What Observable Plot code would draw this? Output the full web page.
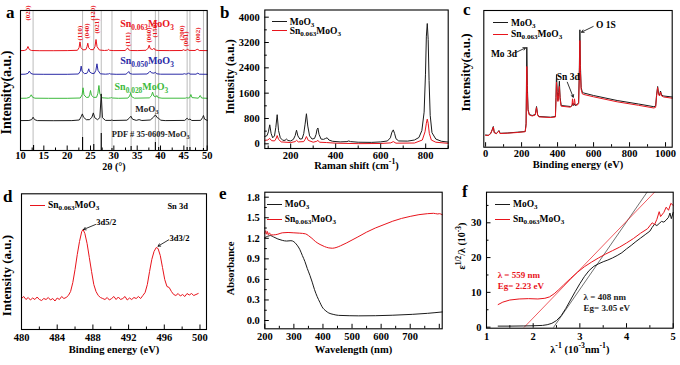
<!DOCTYPE html>
<html>
<head>
<meta charset="utf-8">
<script src="https://cdn.jsdelivr.net/npm/d3@7"></script>
<script src="https://cdn.jsdelivr.net/npm/@observablehq/plot@0.6"></script>
<style>
  html, body { margin: 0; padding: 0; background: #fff; }
  #fig { position: relative; width: 680px; height: 365px; overflow: hidden; background: #fff;
         font-family: "Liberation Serif", "Times New Roman", serif; color: #000; }
  .panel { position: absolute; }
  .panel svg { overflow: visible; display: block; }
  .letter { position: absolute; font-weight: bold; font-size: 17px; line-height: 17px; }
  .lg { position: absolute; display: flex; align-items: center; height: 12px; font-weight: bold;
        font-size: 9.5px; white-space: nowrap; }
  .lg .sw { display: inline-block; width: 15px; height: 0; border-top: 1.1px solid; margin-right: 3px; }
  .lg sub { font-size: 75%; vertical-align: -0.3em; line-height: 0; }
</style>
</head>
<body>
<div id="fig"></div>
<script>
// ---------------- DATA ----------------
// (a) XRD, 2theta (deg) / intensity above each pattern's baseline (arb.)
const xrdSn063 = [10.0,0.6, 10.8,0.7, 11.3,1.6, 11.6,4.7, 11.9,1.6, 12.4,0.7, 14.0,0.5, 17.0,0.5, 20.0,0.6, 22.2,0.9, 22.55,3.5, 22.75,9.3, 22.95,3.5, 23.4,1.3, 24.0,1.6, 24.25,4.5, 24.42,8.0, 24.6,3.5, 25.0,1.6, 25.6,1.5, 25.95,4.5, 26.18,11.7, 26.4,4.5, 26.9,1.2, 28.0,0.7, 28.7,1.0, 28.9,1.8, 29.1,0.9, 30.0,0.6, 32.4,0.7, 32.75,2.0, 32.95,3.3, 33.15,1.5, 33.6,0.7, 35.0,0.6, 36.9,0.9, 37.35,3.0, 37.58,6.0, 37.8,2.5, 38.3,1.6, 38.6,3.0, 38.85,1.2, 39.5,0.7, 42.0,0.6, 44.6,0.7, 44.95,1.5, 45.2,0.8, 45.55,0.9, 45.8,2.3, 46.05,0.8, 47.4,0.7, 47.8,1.8, 48.0,1.8, 48.3,0.7, 50.0,0.6];
const xrdSn050 = [10.0,0.5, 11.0,0.6, 11.6,1.4, 11.9,3.7, 12.2,1.4, 12.7,0.6, 15.0,0.5, 20.0,0.5, 22.4,0.8, 22.8,3.4, 23.0,8.7, 23.2,3.4, 23.7,1.2, 24.2,1.4, 24.45,3.5, 24.62,6.0, 24.8,3.0, 25.3,1.4, 25.8,1.3, 26.15,4.5, 26.38,11.0, 26.6,4.5, 27.1,1.0, 28.2,0.6, 28.9,0.9, 29.1,1.3, 29.3,0.8, 30.5,0.5, 32.6,0.6, 32.95,2.0, 33.2,3.3, 33.4,1.3, 34.0,0.6, 37.1,0.8, 37.55,2.4, 37.8,3.7, 38.05,2.0, 38.6,1.6, 38.9,2.5, 39.2,1.0, 40.0,0.6, 44.8,0.6, 45.1,1.1, 45.4,0.7, 45.75,0.8, 46.0,2.0, 46.25,0.7, 47.6,0.6, 48.0,1.7, 48.3,0.6, 50.0,0.5];
const xrdSn028 = [10.0,0.5, 11.3,0.6, 11.95,1.5, 12.3,4.0, 12.6,1.5, 13.1,0.6, 16.0,0.5, 20.0,0.5, 22.8,0.8, 23.2,4.0, 23.4,11.0, 23.6,4.0, 24.1,1.4, 24.6,1.5, 24.82,4.0, 25.0,8.3, 25.2,3.5, 25.7,1.4, 26.3,1.5, 26.58,5.5, 26.8,13.3, 27.0,5.0, 27.5,1.0, 28.8,0.6, 29.3,0.9, 29.5,1.3, 29.7,0.8, 31.0,0.5, 33.0,0.7, 33.38,2.8, 33.6,5.7, 33.8,2.2, 34.4,0.6, 37.6,0.9, 38.05,3.0, 38.3,6.7, 38.55,2.8, 39.0,1.8, 39.2,3.3, 39.45,1.2, 40.3,0.6, 45.3,0.6, 45.6,1.1, 45.9,0.7, 46.25,1.2, 46.5,4.3, 46.75,1.2, 48.1,0.6, 48.5,3.3, 48.8,0.8, 50.0,0.5];
const xrdMoO3 = [10.0,0.6, 11.8,0.7, 12.4,1.6, 12.7,4.0, 13.0,1.6, 13.6,0.6, 17.0,0.5, 21.0,0.6, 22.6,1.2, 23.0,4.5, 23.25,7.3, 23.5,4.0, 24.1,1.5, 24.8,1.5, 25.3,4.0, 25.6,8.3, 25.9,3.5, 26.5,1.5, 27.0,3.5, 27.3,27.3, 27.55,3.5, 28.2,0.8, 29.4,0.8, 29.6,1.3, 29.8,0.7, 32.8,1.0, 33.3,3.0, 33.65,5.0, 34.0,2.0, 34.8,0.8, 35.4,1.6, 36.0,0.7, 37.8,1.2, 38.5,4.0, 38.9,6.3, 39.3,3.5, 39.6,3.0, 40.0,1.0, 41.0,0.6, 45.2,0.8, 45.7,3.0, 46.0,1.5, 46.3,2.2, 46.7,0.7, 48.6,0.8, 49.0,3.5, 49.2,5.7, 49.45,2.0, 50.0,0.8];
const xrdOffsets = [99.3, 75.7, 51.7, 29.3];           // Sn0.063, Sn0.050, Sn0.028, MoO3
const pdfPos    = [12.8, 23.3, 25.7, 27.3, 29.6, 33.7, 38.9, 39.6, 45.7, 46.3, 49.2];
const pdfHeight = [5, 13, 6, 17, 2, 4, 8, 3, 3, 3, 2];
const refLines  = [12.7, 23.3, 25.7, 27.3, 29.6, 33.7, 38.9, 39.6, 45.7, 46.3, 49.2];
const hklText = ["(020)", "(110)", "(040)", "(120)", "(021)", "(111)", "(060)", "(150)", "(200)", "(061)", "(002)"];
const hklX    = [11.6, 22.7, 24.3, 25.4, 26.3, 32.9, 37.5, 38.7, 44.6, 45.5, 47.9];
const hklY    = [130, 110, 112, 130, 117, 104, 108, 113, 110, 104, 108];
const xrdLabelText = ["Sn_{0.063}MoO_{3}", "Sn_{0.050}MoO_{3}", "Sn_{0.028}MoO_{3}", "MoO_{3}", "PDF # 35-0609-MoO_{3}"];
const xrdLabelX    = [37.1, 37.1, 35.9, 37.1, 37.9];
const xrdLabelY    = [126.7, 90, 63.3, 41.7, 16.7];
const xrdLabelSize = [10, 10, 10, 9, 8.5];

// (b) Raman, shift (cm-1) / intensity (a.u.)
const ramanMoO3 = [85,230, 95,260, 101,380, 107,600, 113,330, 120,190, 128,250, 134,520, 140,920, 146,420, 154,190, 165,110, 175,110, 181,150, 188,105, 200,90, 212,140, 220,260, 226,430, 232,250, 241,150, 251,160, 258,320, 264,620, 270,950, 276,560, 284,250, 295,150, 306,170, 313,300, 317,450, 321,500, 326,300, 335,150, 346,140, 355,170, 362,190, 370,120, 386,80, 420,60, 450,70, 458,90, 466,70, 500,50, 560,45, 600,60, 630,90, 643,190, 650,370, 656,440, 662,320, 668,160, 680,90, 720,85, 750,120, 770,200, 783,420, 793,1000, 799,2200, 803,3400, 807,3800, 811,3300, 815,2000, 820,900, 828,350, 845,150, 870,80, 900,55];
const ramanSn   = [85,110, 98,120, 107,170, 115,100, 128,90, 134,150, 140,260, 146,140, 158,60, 200,40, 220,70, 226,110, 234,60, 258,70, 264,140, 270,230, 278,110, 300,50, 316,80, 321,110, 328,50, 360,40, 400,20, 500,5, 600,10, 645,30, 656,70, 668,20, 750,25, 785,120, 797,380, 803,650, 807,780, 811,650, 816,330, 825,120, 845,50, 900,15];

// (c) XPS survey, binding energy (eV) / intensity (a.u.)
const xpsMoO3 = [0,12.5, 15,12.2, 28,14, 37,18, 43,21, 48,15, 60,14, 70,16, 74,17, 80,14.2, 120,14.5, 176,15.3, 220,16, 225,24, 229,100.3, 232,62, 236,38, 243,33, 259,32, 276,33, 283,41, 289,33, 296,31, 361,30.3, 388,31, 391,50, 394,73, 398,56, 402,47, 406,55, 410,66.3, 414,50, 420,42, 472,41, 481,42, 484,44.5, 488,42, 492,44, 497,42, 509,43, 517,45, 521,80, 524,117.7, 527,82, 531,60, 538,55, 546,54.5, 600,52, 731,47, 850,43.5, 935,40.8, 945,41.5, 950,52, 956,61, 961,54, 967,52.5, 972,56.5, 978,52.5, 990,51.5, 1037,50.5];
const xpsSn   = [0,12.2, 15,12, 28,13.8, 37,17.5, 43,20.5, 48,14.8, 60,13.8, 70,15.8, 74,16.5, 80,14, 120,14.3, 176,15, 220,15.8, 225,22, 229,81, 232,55, 236,37, 243,32.5, 259,31.5, 276,32.5, 283,40, 289,32.5, 296,30.6, 361,30, 388,30.5, 391,46, 394,65.3, 398,54, 402,46, 406,52, 410,61, 414,48, 420,41.3, 472,40.3, 480,42, 483,48.7, 486,43, 490,43, 494,48.7, 498,43, 509,42.3, 517,44, 521,72, 524,107, 527,76, 531,58, 538,53.5, 546,53, 600,50.7, 731,45.7, 850,42.2, 935,39.5, 945,40.2, 950,51, 956,60, 961,53, 967,51.5, 972,55.5, 978,51.5, 990,50.5, 1037,49.3];
const xpsAnnText = ["Mo 3d", "Sn 3d", "O 1S"];
const xpsAnnX = [102, 459, 668];
const xpsAnnY = [93.7, 71, 123];
const xpsArrows = [[172, 95.3, 222, 99.7], [454, 65.3, 487, 50.3], [598, 121, 533, 115.3]];

// (d) Sn 3d high-resolution, binding energy (eV) / intensity (a.u.)
const sn3d = [480,31, 480.25,33, 480.5,30, 480.75,32, 481,29.5, 481.25,31.5, 481.5,30, 481.75,32.5, 482,30, 482.25,29, 482.5,31, 482.75,30, 483,32, 483.25,29.5, 483.5,31, 483.75,28.5, 484,31.5, 484.25,30, 484.5,33, 484.75,31, 485,32, 485.25,34, 485.5,38, 485.75,47, 486,60, 486.25,75, 486.5,88, 486.75,98, 486.9,100, 487.1,96, 487.35,86, 487.6,72, 487.85,58, 488.1,45, 488.35,38, 488.6,34, 488.85,32, 489.1,31, 489.35,30, 489.6,32, 489.85,29.5, 490.1,31, 490.35,33, 490.6,30, 490.85,32.5, 491.1,30, 491.35,31, 491.6,33, 491.85,29.5, 492.1,31.5, 492.35,30, 492.6,32, 492.85,31, 493.1,33, 493.35,31, 493.6,34, 493.85,37, 494.1,45, 494.35,58, 494.6,70, 494.85,78, 495.1,82, 495.3,81, 495.55,74, 495.8,62, 496.05,50, 496.3,43, 496.55,42, 496.8,38, 497.05,35, 497.3,34, 497.55,36, 497.8,33.5, 498.05,35, 498.3,33, 498.55,36, 498.8,34.5, 499.05,36, 499.3,34, 499.55,35, 499.8,36];
const sn3dAnnText = ["3d5/2", "3d3/2", "Sn 3d"];
const sn3dAnnX = [489.5, 497.7, 497.5];
const sn3dAnnY = [107.3, 91.7, 123.5];
const sn3dArrows = [[488.3, 105, 486.95, 100], [496.5, 89.7, 495.3, 83.3]];

// (e) UV-vis absorbance, wavelength (nm) / absorbance
const absMoO3 = [200,1.21, 210,1.23, 220,1.24, 230,1.22, 245,1.19, 260,1.17, 275,1.16, 290,1.165, 300,1.15, 311,1.10, 320,1.04, 329,0.95, 338,0.86, 346,0.76, 355,0.66, 363,0.56, 371,0.45, 380,0.35, 390,0.26, 397,0.2, 410,0.14, 420,0.11, 435,0.09, 454,0.075, 490,0.07, 523,0.068, 580,0.07, 638,0.077, 707,0.09, 760,0.105, 810,0.125];
const absSn   = [200,1.27, 203,1.31, 206,1.26, 209,1.30, 212,1.25, 216,1.28, 220,1.25, 230,1.25, 245,1.26, 260,1.28, 280,1.285, 300,1.28, 320,1.275, 340,1.265, 350,1.24, 362,1.20, 375,1.15, 390,1.11, 405,1.08, 420,1.06, 432,1.055, 445,1.065, 460,1.09, 480,1.13, 500,1.175, 520,1.22, 550,1.29, 580,1.35, 610,1.40, 640,1.45, 670,1.49, 700,1.52, 730,1.545, 760,1.56, 780,1.565, 795,1.555, 800,1.56, 810,1.545];

// (f) Tauc-type plot, 1/lambda (1e-3 nm^-1) / eps^(1/2)/lambda (1e-3)
const taucMoO3 = [1.25,0.3, 1.5,0.3, 1.8,0.35, 2.0,0.4, 2.2,0.5, 2.3,0.7, 2.4,1.1, 2.5,1.9, 2.6,3.3, 2.7,5.4, 2.8,7.8, 2.9,10.2, 3.0,12.5, 3.1,14.6, 3.2,16.3, 3.3,17.5, 3.4,18.2, 3.5,18.8, 3.6,19.3, 3.7,19.9, 3.8,20.6, 3.9,21.4, 4.0,22.5, 4.1,23.5, 4.2,24.6, 4.3,25.6, 4.4,26.6, 4.5,27.6, 4.55,28.7, 4.6,29.6, 4.65,29.2, 4.7,29.8, 4.75,30.4, 4.8,30.2, 4.85,30.8, 4.9,31.6, 4.93,32.8, 4.96,31.2, 5.0,33];
const taucSn   = [1.25,6.5, 1.35,7.2, 1.5,7.8, 1.7,8.1, 1.9,8.2, 2.1,8.1, 2.25,8.3, 2.35,8.7, 2.45,9.6, 2.55,10.8, 2.65,12.1, 2.8,14.0, 2.95,15.8, 3.1,17.4, 3.25,18.7, 3.4,19.9, 3.55,21.0, 3.7,22.0, 3.85,23.0, 4.0,24.2, 4.15,25.5, 4.3,27.0, 4.45,28.3, 4.55,30.0, 4.6,29.5, 4.65,31.0, 4.7,33.2, 4.73,31.8, 4.8,33.0, 4.85,34.5, 4.9,33.6, 4.95,35.6, 5.0,35.0];
const fitMoO3 = [2.44,0, 4.44,38.8];
const fitSn   = [1.81,0, 4.60,38.8];
const taucAnnText = ["λ = 559 nm", "Eg= 2.23 eV", "λ = 408 nm", "Eg= 3.05 eV"];
const taucAnnX = [1.24, 1.24, 3.08, 3.08];
const taucAnnY = [15.1, 11.7, 8.5, 5.4];

// ---------------- STYLE ----------------
const FONT = '"Liberation Serif", "Times New Roman", serif';
const RED = "#e8141c", BLACK = "#1b1b1b", BLUE = "#2a2aa6", GREEN = "#3dba3d", GRAY = "#b4b4b4";
const NS = "http://www.w3.org/2000/svg";
const fig = document.getElementById("fig");

function pairs(flat) { const o = []; for (let i = 0; i < flat.length; i += 2) o.push({x: flat[i], y: flat[i + 1]}); return o; }
const id = d => d;

function rich(root) {
  root.querySelectorAll("text").forEach(t => {
    const s = t.textContent;
    if (!/[_^]\{/.test(s)) return;
    const fs = parseFloat(getComputedStyle(t).fontSize) || 10;
    while (t.firstChild) t.removeChild(t.firstChild);
    const re = /([_^])\{([^}]*)\}/g;
    let last = 0, m, pend = 0;
    const add = (txt, dy, size) => {
      const ts = document.createElementNS(NS, "tspan");
      ts.textContent = txt;
      if (dy) ts.setAttribute("dy", dy.toFixed(2));
      if (size) ts.setAttribute("font-size", size.toFixed(2));
      t.appendChild(ts);
    };
    while ((m = re.exec(s))) {
      if (m.index > last) { add(s.slice(last, m.index), pend); pend = 0; }
      const sh = m[1] === "_" ? 0.28 * fs : -0.4 * fs;
      add(m[2], pend + sh, 0.74 * fs);
      pend = -sh;
      last = re.lastIndex;
    }
    if (last < s.length) add(s.slice(last), pend);
  });
}

function tickMarks({ih, iw, xMajor, xMinor, yMajor, yMinor}) {
  const ms = [];
  if (xMinor) ms.push(Plot.ruleX(xMinor, {x: id, insetTop: ih - 2.5, stroke: "#000", strokeWidth: 1}));
  if (xMajor) ms.push(Plot.ruleX(xMajor, {x: id, insetTop: ih - 4.5, stroke: "#000", strokeWidth: 1}));
  if (yMinor) ms.push(Plot.ruleY(yMinor, {y: id, insetRight: iw - 2.5, stroke: "#000", strokeWidth: 1}));
  if (yMajor) ms.push(Plot.ruleY(yMajor, {y: id, insetRight: iw - 4.5, stroke: "#000", strokeWidth: 1}));
  return ms;
}

function panel({left, top, w, h, m, x, y, marks}) {
  const [mt, mr, mb, ml] = m;
  const svg = Plot.plot({
    width: w, height: h, marginTop: mt, marginRight: mr, marginBottom: mb, marginLeft: ml,
    x: {...x, label: null}, y: {...y, label: null},
    style: {fontFamily: FONT, fontSize: "10.5px", fontWeight: "bold", background: "transparent", color: "#000", overflow: "visible"},
    marks: [...marks, Plot.frame({stroke: "#000", strokeWidth: 1.1})]
  });
  const div = document.createElement("div");
  div.className = "panel";
  div.style.left = left + "px"; div.style.top = top + "px";
  div.appendChild(svg);
  fig.appendChild(div);
  rich(svg);
  return svg;
}

function title(text, opts) { return Plot.text([text], {text: id, ...opts}); }
// vertical axis title anchored at (x-domain start, given y) in data space, shifted left by dx pixels
function yTitle(text, xv, yv, dx, fontSize) {
  return Plot.text([text], {x: () => xv, y: () => yv, text: id, dx, rotate: -90, textAnchor: "middle", lineAnchor: "middle", fontSize});
}

// ---------------- PANEL a ----------------
{
  const w = 225, h = 180, m = [10, 18.3, 30, 20];
  const ih = h - m[0] - m[2], iw = w - m[1] - m[3];
  const series = [xrdSn063, xrdSn050, xrdSn028, xrdMoO3];
  const colors = [RED, BLUE, GREEN, BLACK];
  const labelColors = [RED, BLUE, GREEN, BLACK, BLACK];
  panel({
    left: 0, top: 0, w, h, m,
    x: {domain: [10, 50]}, y: {domain: [0, 140], axis: null},
    marks: [
      Plot.ruleX(refLines, {x: id, stroke: GRAY, strokeWidth: 0.9}),
      ...series.map((s, i) => Plot.line(pairs(s), {x: "x", y: d => d.y + xrdOffsets[i], stroke: colors[i], strokeWidth: 1})),
      Plot.ruleX(pdfPos.map((p, i) => ({x: p, h: pdfHeight[i]})), {x: "x", y1: 0, y2: "h", stroke: "#000", strokeWidth: 1.1}),
      Plot.text(hklText, {x: (d, i) => hklX[i], y: (d, i) => hklY[i], text: id, rotate: -90, textAnchor: "start", fill: RED, fontSize: 7}),
      ...xrdLabelText.map((t, i) => Plot.text([t], {x: () => xrdLabelX[i], y: () => xrdLabelY[i], text: id, fill: labelColors[i], fontSize: xrdLabelSize[i]})),
      ...tickMarks({ih, iw, xMajor: d3.range(10, 51, 5), xMinor: d3.range(12.5, 50, 5)}),
      Plot.axisX({ticks: d3.range(10, 51, 5), tickSize: 0, tickPadding: 1.5, tickFormat: d => String(d), label: null}),
      title("2θ (°)", {frameAnchor: "bottom", dy: 19.5, fontSize: 10}),
      yTitle("Intensity(a.u.)", 10, 58, -13.5, 14)
    ]
  });
}

// ---------------- PANEL b ----------------
{
  const w = 228, h = 180, m = [9.5, 5.3, 32, 39.3];
  const ih = h - m[0] - m[2], iw = w - m[1] - m[3];
  panel({
    left: 225, top: 0, w, h, m,
    x: {domain: [85, 900]}, y: {domain: [-148, 4227]},
    marks: [
      Plot.line(pairs(ramanMoO3), {x: "x", y: "y", stroke: BLACK, strokeWidth: 1}),
      Plot.line(pairs(ramanSn), {x: "x", y: "y", stroke: RED, strokeWidth: 1}),
      ...tickMarks({ih, iw, xMajor: [200, 400, 600, 800], xMinor: [100, 300, 500, 700, 900], yMajor: d3.range(0, 4001, 800), yMinor: d3.range(400, 4001, 800)}),
      Plot.axisX({ticks: [200, 400, 600, 800], tickSize: 0, tickPadding: 3, tickFormat: d => String(d), label: null}),
      Plot.axisY({ticks: d3.range(0, 4001, 800), tickSize: 0, tickPadding: 5, tickFormat: d => String(d), label: null}),
      title("Raman shift (cm^{-1})", {frameAnchor: "bottom", dy: 20, fontSize: 10.5}),
      yTitle("Intensity (a.u.)", 85, 2115, -34.3, 12)
    ]
  });
}

// ---------------- PANEL c ----------------
{
  const w = 227, h = 180, m = [10, 8.3, 33.3, 30.3];
  const ih = h - m[0] - m[2], iw = w - m[1] - m[3];
  panel({
    left: 453, top: 0, w, h, m,
    x: {domain: [-10, 1037]}, y: {domain: [0.3, 137], axis: null},
    marks: [
      Plot.line(pairs(xpsMoO3), {x: "x", y: "y", stroke: BLACK, strokeWidth: 1}),
      Plot.line(pairs(xpsSn), {x: "x", y: "y", stroke: RED, strokeWidth: 1}),
      Plot.arrow(xpsArrows, {x1: d => d[0], y1: d => d[1], x2: d => d[2], y2: d => d[3], stroke: "#000", strokeWidth: 0.8, headLength: 5}),
      Plot.text(xpsAnnText, {x: (d, i) => xpsAnnX[i], y: (d, i) => xpsAnnY[i], text: id, fontSize: 9.5}),
      ...tickMarks({ih, iw, xMajor: d3.range(0, 1001, 200), xMinor: d3.range(100, 1001, 200)}),
      Plot.axisX({ticks: d3.range(0, 1001, 200), tickSize: 0, tickPadding: 2.5, tickFormat: d => String(d), label: null}),
      title("Binding energy (eV)", {frameAnchor: "bottom", dy: 20.5}),
      yTitle("Intensity(a.u.)", -10, 75, -18.3, 13)
    ]
  });
}

// ---------------- PANEL d ----------------
{
  const w = 225, h = 185, m = [13.3, 19, 36, 21];
  const ih = h - m[0] - m[2], iw = w - m[1] - m[3];
  panel({
    left: 0, top: 180, w, h, m,
    x: {domain: [480, 500.73]}, y: {domain: [0, 135.7], axis: null},
    marks: [
      Plot.line(pairs(sn3d), {x: "x", y: "y", stroke: RED, strokeWidth: 1}),
      Plot.arrow(sn3dArrows, {x1: d => d[0], y1: d => d[1], x2: d => d[2], y2: d => d[3], stroke: "#000", strokeWidth: 0.8, headLength: 5}),
      Plot.text(sn3dAnnText, {x: (d, i) => sn3dAnnX[i], y: (d, i) => sn3dAnnY[i], text: id, fontSize: 8.5}),
      ...tickMarks({ih, iw, xMajor: d3.range(480, 501, 4), xMinor: d3.range(482, 501, 4)}),
      Plot.axisX({ticks: d3.range(480, 501, 4), tickSize: 0, tickPadding: 4, tickFormat: d => String(d), label: null}),
      title("Binding energy (eV)", {frameAnchor: "bottom", dy: 23}),
      yTitle("Intensity (a.u.)", 480, 54, -15, 13)
    ]
  });
}

// ---------------- PANEL e ----------------
{
  const w = 228, h = 185, m = [11.7, 11.3, 36.7, 39.3];
  const ih = h - m[0] - m[2], iw = w - m[1] - m[3];
  panel({
    left: 225, top: 180, w, h, m,
    x: {domain: [200, 810]}, y: {domain: [-0.121, 1.873]},
    marks: [
      Plot.line(pairs(absMoO3), {x: "x", y: "y", stroke: BLACK, strokeWidth: 1, curve: "monotone-x"}),
      Plot.line(pairs(absSn), {x: "x", y: "y", stroke: RED, strokeWidth: 1, curve: "monotone-x"}),
      ...tickMarks({ih, iw, xMajor: d3.range(200, 801, 100), xMinor: d3.range(250, 801, 100), yMajor: [0, 0.3, 0.6, 0.9, 1.2, 1.5, 1.8], yMinor: [0.15, 0.45, 0.75, 1.05, 1.35, 1.65]}),
      Plot.axisX({ticks: d3.range(200, 701, 100), tickSize: 0, tickPadding: 4, tickFormat: d => String(d), label: null}),
      Plot.axisY({ticks: [0, 0.3, 0.6, 0.9, 1.2, 1.5, 1.8], tickSize: 0, tickPadding: 5, tickFormat: d => d.toFixed(1), label: null}),
      title("Wavelength (nm)", {frameAnchor: "bottom", dy: 23.7}),
      yTitle("Absorbance", 200, 0.76, -34.3, 10.5)
    ]
  });
}

// ---------------- PANEL f ----------------
{
  const w = 227, h = 185, m = [11.7, 7.3, 37.3, 33];
  const ih = h - m[0] - m[2], iw = w - m[1] - m[3];
  const taucColors = [RED, RED, BLACK, BLACK];
  panel({
    left: 453, top: 180, w, h, m,
    x: {domain: [1, 5]}, y: {domain: [-0.3, 38.8]},
    marks: [
      Plot.line(pairs(fitMoO3), {x: "x", y: "y", stroke: "#333", strokeWidth: 0.7}),
      Plot.line(pairs(fitSn), {x: "x", y: "y", stroke: RED, strokeWidth: 0.7}),
      Plot.line(pairs(taucMoO3), {x: "x", y: "y", stroke: BLACK, strokeWidth: 1}),
      Plot.line(pairs(taucSn), {x: "x", y: "y", stroke: RED, strokeWidth: 1}),
      Plot.text(taucAnnText, {x: (d, i) => taucAnnX[i], y: (d, i) => taucAnnY[i], text: id, fill: (d, i) => taucColors[i], textAnchor: "start", fontSize: 9}),
      ...tickMarks({ih, iw, xMajor: [1, 2, 3, 4, 5], xMinor: [1.5, 2.5, 3.5, 4.5], yMajor: [0, 10, 20, 30], yMinor: [5, 15, 25, 35]}),
      Plot.axisX({ticks: [1, 2, 3, 4, 5], tickSize: 0, tickPadding: 4, tickFormat: d => String(d), label: null}),
      Plot.axisY({ticks: [0, 10, 20, 30], tickSize: 0, tickPadding: 5, tickFormat: d => String(d), label: null}),
      title("λ^{-1} (10^{-3}nm^{-1})", {frameAnchor: "bottom", dy: 24.3}),
      yTitle("ε^{1/2}/λ (10^{-3})", 1, 23.3, -25, 10)
    ]
  });
}

// ---------------- LEGENDS (HTML) ----------------
const legends = [
  // [left, centerY, color, html]
  [271.7, 21.7, BLACK, "MoO<sub>3</sub>"], [271.7, 30.7, RED, "Sn<sub>0.063</sub>MoO<sub>3</sub>"],
  [493, 22.7, BLACK, "MoO<sub>3</sub>"], [493, 34, RED, "Sn<sub>0.063</sub>MoO<sub>3</sub>"],
  [30, 205, RED, "Sn<sub>0.063</sub>MoO<sub>3</sub>"],
  [266.7, 204, BLACK, "MoO<sub>3</sub>"], [266.7, 219.3, RED, "Sn<sub>0.063</sub>MoO<sub>3</sub>"],
  [495, 204, BLACK, "MoO<sub>3</sub>"], [495, 219.3, RED, "Sn<sub>0.063</sub>MoO<sub>3</sub>"]
];
legends.forEach(([l, cy, c, html]) => {
  const d = document.createElement("div");
  d.className = "lg";
  d.style.left = l + "px"; d.style.top = (cy - 6) + "px";
  d.innerHTML = `<span class="sw" style="border-color:${c}"></span><span>${html}</span>`;
  fig.appendChild(d);
});

// ---------------- PANEL LETTERS ----------------
[["a", 6, 18.3], ["b", 220, 18.3], ["c", 463, 15], ["d", 3, 201.7], ["e", 219, 199.3], ["f", 462, 196.7]].forEach(([t, x, base]) => {
  const d = document.createElement("div");
  d.className = "letter";
  d.textContent = t;
  d.style.left = x + "px"; d.style.top = (base - 14.2) + "px";
  fig.appendChild(d);
});
</script>
</body>
</html>
